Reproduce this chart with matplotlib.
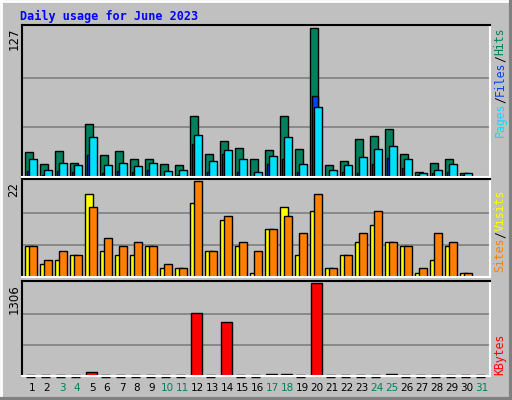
import numpy as np
import matplotlib
matplotlib.use("Agg")
import matplotlib.pyplot as plt
from matplotlib.patches import Rectangle
from matplotlib.lines import Line2D

days = np.arange(1, 32)
hits = [21, 11, 22, 12, 45, 19, 22, 15, 15, 11, 10, 52, 20, 31, 25, 15,
        23, 52, 24, 127, 10, 14, 32, 35, 41, 20, 4, 12, 15, 3, 0]
# wide cyan bars
cyan_vals = [15, 6, 12, 10, 34, 10, 12, 9, 12, 5, 6, 36, 14, 23, 15, 4,
             18, 34, 11, 60, 6, 10, 17, 24, 26, 15, 3, 6, 11, 3, 0]
# narrow blue bars
blue_vals = [5, 2, 5, 4, 19, 3, 5, 4, 6, 0, 2, 28, 4, 20, 4, 0,
             11, 15, 4, 69, 0, 4, 3, 11, 16, 8, 2, 3, 4, 2, 0]
sites = [7, 3, 4, 5, 19, 6, 5, 5, 7, 2, 2, 17, 6, 13, 7, 1,
         11, 16, 5, 15, 2, 5, 8, 12, 8, 7, 1, 4, 7, 1, 0]
visits = [7, 4, 6, 5, 16, 9, 7, 8, 7, 3, 2, 22, 6, 14, 8, 6,
          11, 14, 10, 19, 2, 5, 10, 15, 8, 7, 2, 10, 8, 1, 0]
kbytes = [0, 0, 0, 0, 62, 0, 0, 0, 0, 0, 0, 882, 0, 753, 0, 0,
          33, 33, 0, 1306, 0, 0, 0, 0, 30, 0, 0, 0, 0, 0, 0]
weekend = [3, 4, 10, 11, 17, 18, 24, 25, 31]

W, H = 512, 400
fig = plt.figure(figsize=(W / 100, H / 100), dpi=100, facecolor="#c0c0c0")

# bevel border
fig.add_artist(Line2D([0, 1], [1 - 1 / H, 1 - 1 / H], color="white", lw=2))
fig.add_artist(Line2D([1 / W, 1 / W], [0, 1], color="white", lw=2))
fig.add_artist(Line2D([0, 1], [1.5 / H, 1.5 / H], color="#808080", lw=3))
fig.add_artist(Line2D([1 - 1.5 / W, 1 - 1.5 / W], [0, 1], color="#808080", lw=3))

fig.text(20 / W, 1 - 16 / H, "Daily usage for June 2023", color="#0000ff",
         family="DejaVu Sans Mono", weight="bold", fontsize=8.5, va="center")

x0 = days - 1


def panel(top, bot, ymax):
    ax = fig.add_axes([22 / W, 1 - bot / H, 468 / W, (bot - top) / H])
    ax.set_facecolor("#c0c0c0")
    ax.set_xlim(-0.2, 31)
    ax.set_ylim(0, ymax * 1.02)
    for v in (ymax / 3, 2 * ymax / 3):
        ax.axhline(v, color="#808080", lw=1.2, zorder=0)
    ax.set_xticks([])
    ax.set_yticks([])
    ax.spines["top"].set_color("black")
    ax.spines["left"].set_color("black")
    ax.spines["bottom"].set_color("white")
    ax.spines["right"].set_color("white")
    for s in ax.spines.values():
        s.set_linewidth(1.5)
    return ax


kw = dict(align="edge", edgecolor="black", linewidth=1)

ax1 = panel(25, 177, max(hits))
ax1.bar(x0, hits, width=0.51, color="#00805c", **kw)
ax1.bar(x0 + 0.13, blue_vals, width=0.37, color="#0040ff", **kw)
ax1.bar(x0 + 0.27, cyan_vals, width=0.51, color="#00e0ff", **kw)

ax2 = panel(179, 277, max(visits))
ax2.bar(x0, sites, width=0.51, color="#ffff00", **kw)
ax2.bar(x0 + 0.27, visits, width=0.51, color="#ff8000", **kw)

ax3 = panel(281, 376, max(kbytes))
kb = np.array(kbytes)
nz = kb > 0
ax3.bar(x0[nz] + 0.07, kb[nz], width=0.7, color="#ff0000", **kw)
for d in x0[~nz]:
    ax3.plot([d + 0.07, d + 0.67], [0, 0], color="black", lw=2.5,
             solid_capstyle="butt", clip_on=False)

# left max labels
for lab, top in (("127", 28), ("22", 182), ("1306", 284)):
    fig.text(14 / W, 1 - top / H, lab, rotation=90, fontsize=8.5,
             ha="center", va="top", color="black")


# right rotated legends
def side(parts, bottom):
    y = bottom
    for txt, col in parts:
        fig.text(500 / W, 1 - y / H, txt, rotation=90, color=col,
                 family="DejaVu Sans Mono", fontsize=8.3, ha="center",
                 va="bottom")
        y -= 6.8 * len(txt)


side([("Pages", "#00e0ff"), ("/", "black"), ("Files", "#0040ff"),
      ("/", "black"), ("Hits", "#00805c")], 137)
side([("Sites", "#ff8000"), ("/", "black"), ("Visits", "#ffff00")], 272)
side([("KBytes", "#ff0000")], 375)

for d in days:
    col = "#00805c" if d in weekend else "black"
    fig.text((22 + 15 * (d - 1 + 0.2) + 7) / W, 1 - 388 / H, str(d),
             color=col, fontsize=7.5, ha="center", va="center")

fig.savefig("out.png", dpi=100, facecolor=fig.get_facecolor())
